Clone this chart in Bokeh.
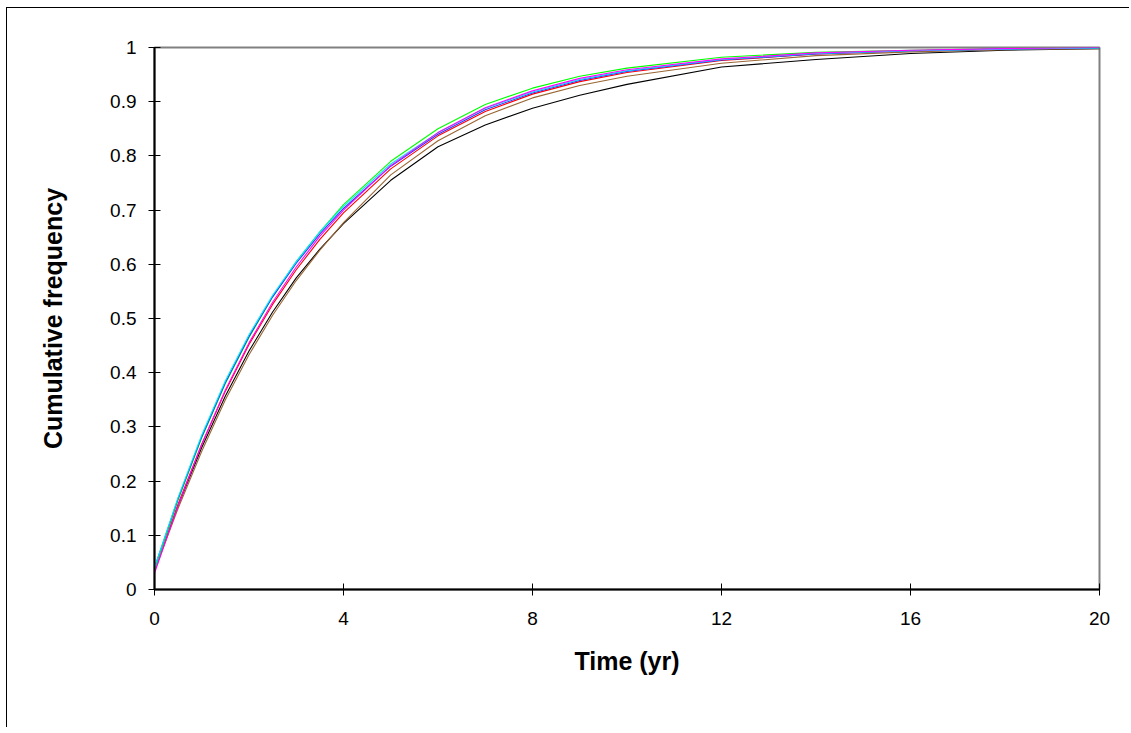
from bokeh.plotting import figure
from bokeh.models import Range1d, FixedTicker, CustomJSTickFormatter
from bokeh.embed import file_html
from bokeh.resources import INLINE

# ---- data ----
t = [0, 0.5, 1, 1.5, 2, 2.5, 3, 3.5, 4, 5, 6, 7, 8, 9, 10, 12, 14, 16, 18, 20]

black = [0.035, 0.155, 0.262, 0.357, 0.440, 0.512, 0.575, 0.628, 0.675, 0.755,
         0.817, 0.857, 0.888, 0.912, 0.932, 0.964, 0.978, 0.989, 0.995, 0.998]
brown = [0.035, 0.150, 0.255, 0.350, 0.433, 0.506, 0.570, 0.626, 0.677, 0.765,
         0.828, 0.874, 0.907, 0.930, 0.947, 0.971, 0.985, 0.992, 0.996, 0.998]
red = [0.035, 0.158, 0.268, 0.366, 0.452, 0.526, 0.590, 0.646, 0.695, 0.776,
       0.837, 0.882, 0.914, 0.937, 0.954, 0.976, 0.988, 0.994, 0.997, 0.999]
green = [0.035, 0.165, 0.280, 0.380, 0.465, 0.540, 0.605, 0.660, 0.710, 0.790,
         0.850, 0.895, 0.925, 0.947, 0.962, 0.982, 0.991, 0.995, 0.998, 0.999]
blue = [0.040, 0.168, 0.282, 0.382, 0.467, 0.540, 0.602, 0.656, 0.703, 0.781,
        0.840, 0.885, 0.916, 0.939, 0.956, 0.977, 0.988, 0.994, 0.997, 0.999]
cyan = [0.040, 0.170, 0.285, 0.385, 0.470, 0.543, 0.605, 0.660, 0.707, 0.785,
        0.843, 0.888, 0.918, 0.941, 0.957, 0.978, 0.989, 0.994, 0.997, 0.999]
magenta = [0.030, 0.155, 0.268, 0.368, 0.455, 0.530, 0.595, 0.652, 0.700, 0.782,
           0.843, 0.889, 0.920, 0.943, 0.959, 0.979, 0.990, 0.995, 0.998, 1.000]

series = [
    (black, "#000000"),
    (brown, "#996633"),
    (red, "#FF0000"),
    (green, "#00FF00"),
    (blue, "#3333FF"),
    (cyan, "#00E5FF"),
    (magenta, "#FF00FF"),
]

x_ticks = [0, 4, 8, 12, 16, 20]
y_ticks = [0, 0.1, 0.2, 0.3, 0.4, 0.5, 0.6, 0.7, 0.8, 0.9, 1.0]

FONT = "Liberation Sans"

p = figure(
    frame_width=945, frame_height=542,
    x_range=Range1d(0, 20), y_range=Range1d(0, 1),
    output_backend="svg", toolbar_location=None,
    min_border_left=147, min_border_top=39, min_border_right=30, min_border_bottom=138,
    background_fill_color="white", border_fill_color="white",
)
p.styles = {"border-left": "1px solid black", "border-top": "1px solid black",
            "margin-left": "6px", "margin-top": "7px"}

p.xgrid.visible = False
p.ygrid.visible = False
p.outline_line_color = "#808080"
p.outline_line_width = 2

for vals, col in series:
    p.line(t, vals, line_color=col, line_width=1.1)

for ax in (p.xaxis[0], p.yaxis[0]):
    ax.axis_line_color = "black"
    ax.axis_line_width = 2
    ax.major_tick_line_color = "black"
    ax.major_tick_line_width = 1
    ax.major_tick_in = 6
    ax.major_tick_out = 6
    ax.minor_tick_line_color = None
    ax.major_label_text_font = FONT
    ax.major_label_text_font_size = "19px"
    ax.major_label_text_color = "black"
    ax.axis_label_text_font = FONT
    ax.axis_label_text_font_size = "25px"
    ax.axis_label_text_font_style = "bold"
    ax.axis_label_text_color = "black"

p.xaxis.ticker = FixedTicker(ticks=x_ticks)
p.yaxis.ticker = FixedTicker(ticks=y_ticks)
p.yaxis.formatter = CustomJSTickFormatter(code="return Number(tick.toFixed(1)).toString();")
p.xaxis.major_label_standoff = 16
p.yaxis.major_label_standoff = 12
p.xaxis.axis_label = "Time (yr)"
p.yaxis.axis_label = "Cumulative frequency"
p.xaxis.axis_label_standoff = 19
p.yaxis.axis_label_standoff = 40

open("out.html", "w").write(file_html(p, INLINE))
